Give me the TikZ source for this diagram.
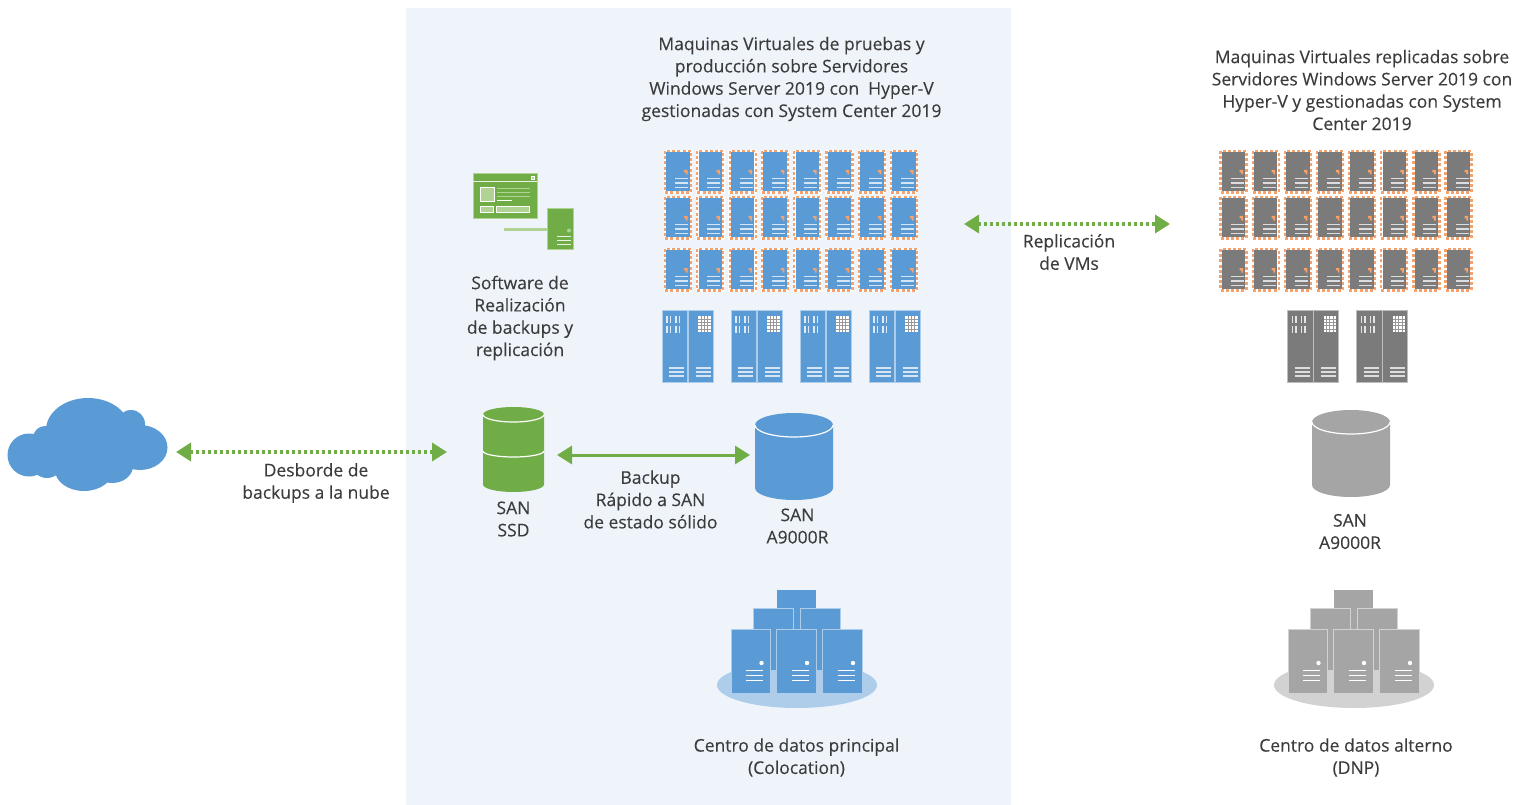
\documentclass[tikz,border=0pt]{standalone}
\usepackage{fontspec}
\setmainfont[FakeBold=0.15]{Open Sans}
\usetikzlibrary{arrows.meta}
\definecolor{panel}{HTML}{EFF4FB}
\definecolor{blu}{HTML}{5B9BD5}
\definecolor{blulight}{HTML}{ADCDEB}
\definecolor{grn}{HTML}{70AD47}
\definecolor{grnlight}{HTML}{B0D393}
\definecolor{org}{HTML}{F4A26E}
\definecolor{gd}{HTML}{7B7B7B}
\definecolor{gl}{HTML}{A5A5A5}
\definecolor{gel}{HTML}{D2D2D2}
\definecolor{txt}{HTML}{3C3C3C}
\tikzset{
  lbl/.style={align=center,text=txt,font=\fontsize{17.5}{22.3}\selectfont,inner sep=0pt},
  hit/.style={inner sep=0pt,outer sep=0pt,minimum width=#1},
  link/.style={draw=grn,line width=3pt,{Triangle[length=15pt,width=18pt]}-{Triangle[length=15pt,width=18pt]}},
  dotlink/.style={link,line width=3.6pt,dash pattern=on 3pt off 3pt},
  bar/.style={draw=white,line width=1.4pt,opacity=.75},
}
% small VM server: x y fill
\newcommand{\vmbox}[3]{%
  \draw[white,line width=2.6pt,fill=#3] (#1,#2) rectangle ++(26,41.5);
  \draw[org,line width=2.2pt,dash pattern=on 3pt off 2.2pt] (#1,#2) rectangle ++(26,41.5);
  \fill[org] (#1+19,#2+19) -- ++(3.5,0) -- ++(0,4.5) -- ++(-1.7,0) -- ++(0,-2.2) -- ++(-1.8,0) -- cycle;
  \foreach \d in {27.5,32,36.5}{\draw[bar] (#1+10,#2+\d) -- ++(13,0);}
}
% tower pair: x y fill
\newcommand{\towers}[3]{%
  \fill[#3,draw=white!50!#3,line width=.7pt] (#1,#2) rectangle ++(25.5,72);
  \fill[#3,draw=white!50!#3,line width=.7pt] (#1+26,#2) rectangle ++(25,72);
  \foreach \bx in {5,8.5,14,17.5}{\foreach \by in {6,16}{\draw[white,line width=1.5pt,opacity=.8] (#1+\bx,#2+\by) -- ++(0,7);}}
  \fill[white] (#1+36,#2+6) rectangle ++(12.5,16);
  \foreach \gx in {3.1,6.2,9.3}{\draw[gray!80,line width=.6pt] (#1+36+\gx,#2+6) -- ++(0,16);}
  \foreach \gy in {3.2,6.4,9.6,12.8}{\draw[gray!80,line width=.6pt] (#1+36,#2+6+\gy) -- ++(12.5,0);}
  \foreach \d in {58,62,66}{\draw[bar] (#1+7,#2+\d) -- ++(15,0); \draw[bar] (#1+33.5,#2+\d) -- ++(15,0);}
}
% cylinder: x y w h ry fill
\newcommand{\cyl}[6]{%
  \fill[#6] (#1,#2+#5) arc[start angle=180,end angle=360,x radius=#3/2,y radius=#5] -- (#1+#3,#2+#4-#5) arc[start angle=0,end angle=180,x radius=#3/2,y radius=#5] -- cycle;
  \draw[white,line width=1.2pt] (#1,#2+#5) arc[start angle=180,end angle=0,x radius=#3/2,y radius=#5];
}
% data centre cluster
\newcommand{\dcbox}[4]{%
  \fill[#3,draw=#4,line width=.9pt] (#1,#2) rectangle ++(39.5,64);
  \fill[white] (#1+30.5,#2+33.5) circle[radius=2.2];
  \foreach \d in {41,46,51}{\draw[white,line width=1.2pt] (#1+15,#2+\d) -- ++(17,0);}
}
\newcommand{\cluster}[4]{%
  \fill[#3] (#1+797,685) ellipse[x radius=80,y radius=23];
  \fill[#2] (#1+777,590) rectangle ++(39,30);
  \fill[#2] (#1+793,600) rectangle ++(8,30);
  \fill[#2,draw=#4,line width=.7pt] (#1+753,608) rectangle ++(40,62);
  \fill[#2,draw=#4,line width=.7pt] (#1+800,608) rectangle ++(40,62);
  \dcbox{#1+731}{629.5}{#2}{#4}
  \dcbox{#1+776.5}{629.5}{#2}{#4}
  \dcbox{#1+822.5}{629.5}{#2}{#4}
}
\begin{document}
\begin{tikzpicture}[x=1pt,y=-1pt]
\useasboundingbox (0,0) rectangle (1528,805);
\fill[white] (0,0) rectangle (1528,805);
\fill[panel] (406,8) rectangle (1011,805);

% cloud
\fill[blu] (29,455) circle[radius=21.5];
\fill[blu] (47,462) circle[radius=16];
\fill[blu] (45,438) circle[radius=12];
\fill[blu] (88,430) ellipse[x radius=42,y radius=32];
\fill[blu] (131,424) circle[radius=14];
\fill[blu] (140,447.5) ellipse[x radius=27.5,y radius=22.5];
\fill[blu] (84,470) ellipse[x radius=29,y radius=21];
\fill[blu] (112,466) ellipse[x radius=21,y radius=17];
\fill[blu] (90,452) ellipse[x radius=50,y radius=24];
\node[hit=159pt,minimum height=93pt] (cloud) at (87.5,452) {};

% VM arrays
\foreach \cn in {0,...,7}{
  \foreach \ry in {151,197,249}{
    \vmbox{665+32.3*\cn}{\ry}{blu}
    \vmbox{1220.5+32.15*\cn}{\ry}{gd}
  }
}
\node[hit=254pt,minimum height=140pt] (vmsA) at (791,224) {};
\node[hit=254pt,minimum height=140pt] (vmsB) at (1347,224) {};

% towers
\foreach \tx in {662,731,800,869}{\towers{\tx}{310}{blu}}
\foreach \tx in {1287.5,1356.5}{\towers{\tx}{310}{gd}}

% software icon
\fill[grn,draw=grnlight,line width=.7pt] (473,173.5) rectangle (537,218.5);
\draw[white,line width=1.2pt,opacity=.85] (473,181.5) -- (537,181.5);
\fill[grnlight,draw=white,line width=.6pt] (534,176) rectangle (531,179);
\fill[grnlight,draw=white,line width=.9pt] (480.5,187) rectangle (494,201.5);
\foreach \ly in {188.5,192.5,196.5}{\draw[grnlight,line width=1.5pt] (497,\ly) -- (530,\ly);}
\draw[white,line width=1.3pt] (497,200.5) -- (512,200.5);
\fill[grnlight,draw=white,line width=.9pt] (480,206) rectangle (493,212.5);
\fill[grnlight,draw=white,line width=.9pt] (496.5,206) rectangle (529,212.5);
\draw[grnlight,line width=2.4pt] (504,229.5) -- (547,229.5);
\fill[grn,draw=grnlight,line width=.7pt] (547.5,208) rectangle (573.5,249.5);
\fill[grnlight] (569,230.5) circle[radius=2];
\foreach \ly in {236.5,240.5,244.5}{\draw[white,line width=1.8pt,opacity=.85] (557,\ly) -- (571,\ly);}

% SANs
\cyl{483}{407}{61}{85}{7.5}{grn}
\draw[white,line width=1.2pt] (483,451) arc[start angle=180,end angle=0,x radius=30.5,y radius=6];
\node[hit=61pt,minimum height=85pt] (ssd) at (513.5,449.5) {};
\cyl{755}{413}{78}{87}{12}{blu}
\node[hit=78pt,minimum height=87pt] (sanA) at (794,456.5) {};
\cyl{1312}{410}{78}{87}{12}{gl}
\node[hit=78pt,minimum height=87pt] (sanB) at (1351,453.5) {};

% data centres
\cluster{0}{blu}{blulight}{blulight}
\cluster{557}{gl}{gel}{gel}

% connectors
\draw[dotlink,shorten <=9pt,shorten >=36pt] (cloud.east) -- (ssd.west |- cloud.east);
\draw[link,shorten <=13pt,shorten >=5pt] (ssd.east |- 0,455) -- (sanA.west |- 0,455);
\draw[dotlink,shorten <=46pt,shorten >=50pt] (vmsA.east) -- (vmsB.west);

% labels
\node[lbl] (t1) at (791.5,79) {Maquinas Virtuales de pruebas y\\producción sobre Servidores\\Windows Server 2019 con\ \ Hyper-V\\gestionadas con System Center 2019};
\node[lbl] (t2) at (1362,90) {Maquinas Virtuales replicadas sobre\\Servidores Windows Server 2019 con\\Hyper-V y gestionadas con System\\Center 2019};
\node[lbl] (t3) at (520,318) {Software de\\Realización\\de backups y\\replicación};
\node[lbl] (t4) at (1069,252) {Replicación\\de VMs};
\node[lbl] (t5) at (316,483) {Desborde de\\backups a la nube};
\node[lbl] (t6) at (513.5,519) {SAN\\SSD};
\node[lbl] (t7) at (650.5,499.5) {Backup\\Rápido a SAN\\de estado sólido};
\node[lbl] (t8) at (797.5,526) {SAN\\A9000R};
\node[lbl] (t9) at (1350,531.5) {SAN\\A9000R};
\node[lbl] (t10) at (796.5,757.5) {Centro de datos principal\\(Colocation)};
\node[lbl] (t11) at (1356,757.5) {Centro de datos alterno\\(DNP)};
\end{tikzpicture}
\end{document}
